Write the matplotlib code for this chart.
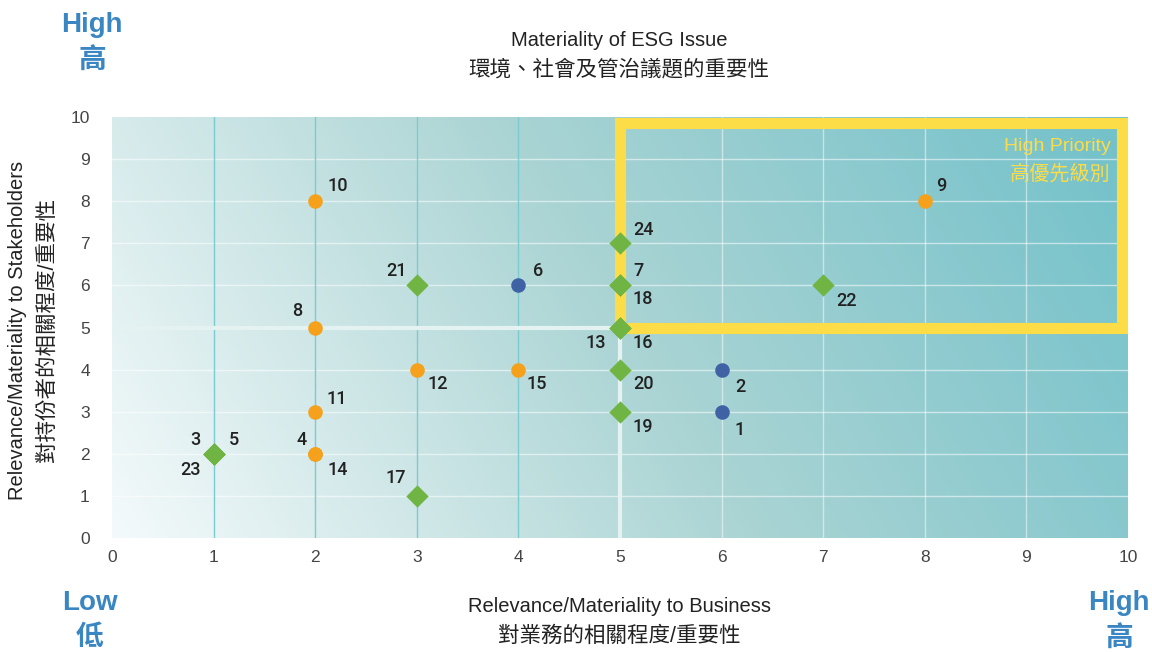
import numpy as np
import matplotlib
matplotlib.use("Agg")
import matplotlib.pyplot as plt
from matplotlib.colors import LinearSegmentedColormap
from matplotlib.patches import Rectangle

plt.rcParams['font.family'] = ['Liberation Sans', 'Noto Sans CJK TC', 'DejaVu Sans']

# ESG issues: number, business relevance (x), stakeholder relevance (y), group
issue_no = [1, 2, 3, 4, 5, 6, 7, 8, 9, 10, 11, 12,
            13, 14, 15, 16, 17, 18, 19, 20, 21, 22, 23, 24]
issue_x = [6, 6, 1, 2, 1, 4, 5, 2, 8, 2, 2, 3,
           5, 2, 4, 5, 3, 5, 5, 5, 3, 7, 1, 5]
issue_y = [3, 4, 2, 2, 2, 6, 6, 5, 8, 8, 3, 4,
           5, 2, 4, 5, 1, 6, 3, 4, 6, 6, 2, 7]
issue_group = ['b', 'b', 'g', 'o', 'g', 'b', 'g', 'o', 'o', 'o', 'o', 'o',
               'g', 'o', 'o', 'g', 'g', 'g', 'g', 'g', 'g', 'g', 'g', 'g']

ticks = list(range(0, 11))

# look
group_style = {
    'o': dict(marker='o', color='#F5A11C', s=110),
    'b': dict(marker='o', color='#3F62A5', s=110),
    'g': dict(marker='D', color='#70B543', s=130),
}
# label offsets in pixels (dx, dy)
label_off = {
    10: (23, 15), 9: (16, 15), 24: (23, 13), 7: (18, 14), 18: (23, -14),
    21: (-20, 14), 6: (20, 14), 22: (23, -16), 8: (-18, 16), 13: (-24, -16),
    16: (23, -16), 12: (21, -14), 15: (18, -14), 20: (23, -14), 2: (19, -17),
    11: (22, 13), 19: (23, -15), 1: (18, -18), 3: (-18, 14), 5: (20, 14),
    23: (-23, -16), 4: (-14, 14), 14: (23, -16), 17: (-21, 18),
}

DPI = 100
fig = plt.figure(figsize=(11.52, 6.52), dpi=DPI)
ax = fig.add_axes([112 / 1152, 1 - 538 / 652, 1016 / 1152, 421 / 652])

# gradient background
cmap = LinearSegmentedColormap.from_list('bg', ['#F4FAFB', '#ABD4D4', '#72C1CA'])
gx, gy = np.meshgrid(np.linspace(0, 10, 400), np.linspace(0, 10, 200))
t = 0.8 * gx / 10 + 0.2 * gy / 10
ax.imshow(t, extent=[0, 10, 0, 10], origin='lower', cmap=cmap, vmin=0, vmax=1,
          aspect='auto', zorder=0, interpolation='bilinear')

# grid lines
for v in ticks[1:-1]:
    ax.axhline(v, color='white', lw=1, alpha=0.55, zorder=1)
for v in ticks[1:5]:
    ax.axvline(v, color='#7CCBD0', lw=1, zorder=1)
for v in ticks[6:-1]:
    ax.axvline(v, color='white', lw=1, alpha=0.5, zorder=1)
ax.plot([0, 5], [5, 5], color='#E4F2F2', lw=3, zorder=2, solid_capstyle='butt')
ax.plot([5, 5], [0, 5], color='#E4F2F2', lw=3, zorder=2, solid_capstyle='butt')

# high priority box
ax.add_patch(Rectangle((5, 5), 4.94, 4.85, fill=False, edgecolor='#FCDC47',
                       lw=8, zorder=3, joinstyle='miter'))
ax.text(9.83, 9.31, 'High Priority', color='#FCDC47', fontsize=14,
        ha='right', va='center', zorder=4)
ax.text(9.83, 8.64, '高優先級別', color='#FCDC47', fontsize=14.5,
        ha='right', va='center', zorder=4)

# points
for g, st in group_style.items():
    xs = [x for x, gg in zip(issue_x, issue_group) if gg == g]
    ys = [y for y, gg in zip(issue_y, issue_group) if gg == g]
    ax.scatter(xs, ys, marker=st['marker'], color=st['color'], s=st['s'],
               linewidths=0, zorder=5)

for n, x, y in zip(issue_no, issue_x, issue_y):
    dx, dy = label_off[n]
    ax.annotate(str(n), (x, y), xytext=(dx * 72 / DPI, dy * 72 / DPI),
                textcoords='offset points', ha='center', va='center',
                fontsize=13, color='#222222', zorder=6,
                family=['Roboto', 'Liberation Sans'], fontweight='medium')

ax.set_xlim(0, 10)
ax.set_ylim(0, 10)
ax.set_xticks(ticks)
ax.set_yticks(ticks)
ax.tick_params(length=0, labelsize=12.5, labelcolor='#444444')
ax.tick_params(axis='x', pad=9)
ax.tick_params(axis='y', pad=16)
for s in ax.spines.values():
    s.set_visible(False)

blue = '#3A86C3'
txt = '#222222'
fig.text(619 / 1152, 1 - 41 / 652, 'Materiality of ESG Issue', ha='center', va='center',
         fontsize=14.5, color=txt)
fig.text(619 / 1152, 1 - 70 / 652, '環境、社會及管治議題的重要性', ha='center', va='center',
         fontsize=15.5, color=txt)
fig.text(619 / 1152, 1 - 607 / 652, 'Relevance/Materiality to Business', ha='center',
         va='center', fontsize=14.5, color=txt)
fig.text(619 / 1152, 1 - 636 / 652, '對業務的相關程度/重要性', ha='center', va='center',
         fontsize=15.5, color=txt)
fig.text(18 / 1152, 1 - 330 / 652, 'Relevance/Materiality to Stakeholders', ha='center',
         va='center', rotation=90, fontsize=14.5, color=txt)
fig.text(47 / 1152, 1 - 330 / 652, '對持份者的相關程度/重要性', ha='center', va='center',
         rotation=90, fontsize=15.5, color=txt)

fig.text(92 / 1152, 1 - 25 / 652, 'High', ha='center', va='center', fontsize=20,
         color=blue, fontweight='bold')
fig.text(92 / 1152, 1 - 62 / 652, '高', ha='center', va='center', fontsize=20,
         color=blue, fontweight='bold')
fig.text(90 / 1152, 1 - 603 / 652, 'Low', ha='center', va='center', fontsize=20,
         color=blue, fontweight='bold')
fig.text(90 / 1152, 1 - 638 / 652, '低', ha='center', va='center', fontsize=20,
         color=blue, fontweight='bold')
fig.text(1119 / 1152, 1 - 603 / 652, 'High', ha='center', va='center', fontsize=20,
         color=blue, fontweight='bold')
fig.text(1119 / 1152, 1 - 640 / 652, '高', ha='center', va='center', fontsize=20,
         color=blue, fontweight='bold')

fig.savefig('out.png', dpi=DPI)
